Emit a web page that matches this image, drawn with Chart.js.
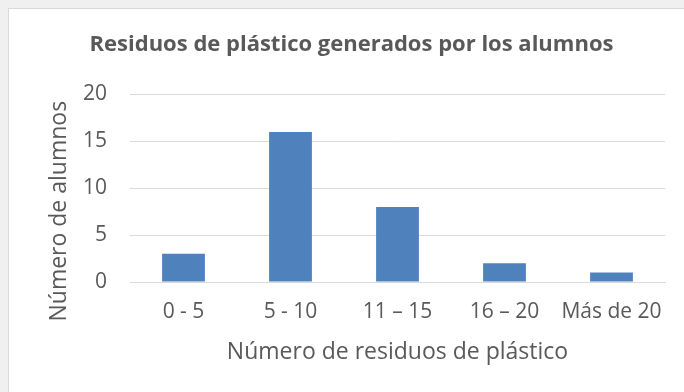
<!DOCTYPE html>
<html>
<head>
<meta charset="utf-8">
<script src="https://cdn.jsdelivr.net/npm/chart.js@4"></script>
<style>
  html, body { margin: 0; padding: 0; background: #f0f0f0; }
  #marco {
    position: absolute; left: 8px; top: 8px;
    width: 675px; height: 383px;
    background: #ffffff;
    border-left: 1px solid #d9d9d9; border-top: 1px solid #d9d9d9;
  }
</style>
</head>
<body>
<div id="marco"><canvas id="grafico" width="675" height="383"></canvas></div>
<script>
// Datos del gráfico
const categorias = ['0 - 5', '5 - 10', '11 – 15', '16 – 20', 'Más de 20'];
const alumnos = [3, 16, 8, 2, 1];
const ticksY = [0, 5, 10, 15, 20];

const gris = '#595959';
const fuente = '"Open Sans", sans-serif';

// El título del eje Y va un poco más abajo que el centro del área de trazado
const tituloEjeY = {
  id: 'tituloEjeY',
  afterDraw(chart) {
    const { ctx, chartArea, scales: { y } } = chart;
    ctx.save();
    ctx.translate(y.left + 21, (chartArea.top + chartArea.bottom) / 2 + 23);
    ctx.rotate(-Math.PI / 2);
    ctx.font = '23px ' + fuente;
    ctx.fillStyle = gris;
    ctx.textAlign = 'center';
    ctx.textBaseline = 'middle';
    ctx.fillText('Número de alumnos', 0, 0);
    ctx.restore();
  }
};

const ctx = document.getElementById('grafico').getContext('2d');
new Chart(ctx, {
  type: 'bar',
  data: {
    labels: categorias,
    datasets: [{
      label: 'Alumnos',
      data: alumnos,
      backgroundColor: '#4f81bd',
      borderWidth: 0,
      categoryPercentage: 0.8,
      barPercentage: 0.5
    }]
  },
  options: {
    responsive: false,
    animation: false,
    layout: { padding: { left: 29, right: 19, top: 0, bottom: 0 } },
    plugins: {
      legend: { display: false },
      tooltip: { enabled: false },
      title: {
        display: true,
        text: 'Residuos de plástico generados por los alumnos',
        color: gris,
        font: { family: fuente, size: 22, weight: 'bold' },
        padding: { top: 23, bottom: 36 }
      }
    },
    scales: {
      x: {
        grid: { display: false, drawTicks: false },
        border: { display: true, color: '#d9d9d9', width: 1 },
        ticks: { color: gris, font: { family: fuente, size: 21 }, padding: 17, maxRotation: 0 },
        title: {
          display: true,
          text: 'Número de residuos de plástico',
          color: gris,
          font: { family: fuente, size: 23 },
          padding: { top: 0, bottom: 26 }
        },
        afterFit: (escala) => { escala.height = 110; }
      },
      y: {
        min: 0,
        max: 20,
        afterBuildTicks: (escala) => { escala.ticks = ticksY.map(v => ({ value: v })); },
        grid: { color: '#d9d9d9', drawTicks: false },
        border: { display: false },
        ticks: { color: gris, font: { family: fuente, size: 21 }, padding: 23 },
        title: { display: false },
        afterFit: (escala) => { escala.width = 92; }
      }
    }
  },
  plugins: [tituloEjeY]
});
</script>
</body>
</html>
